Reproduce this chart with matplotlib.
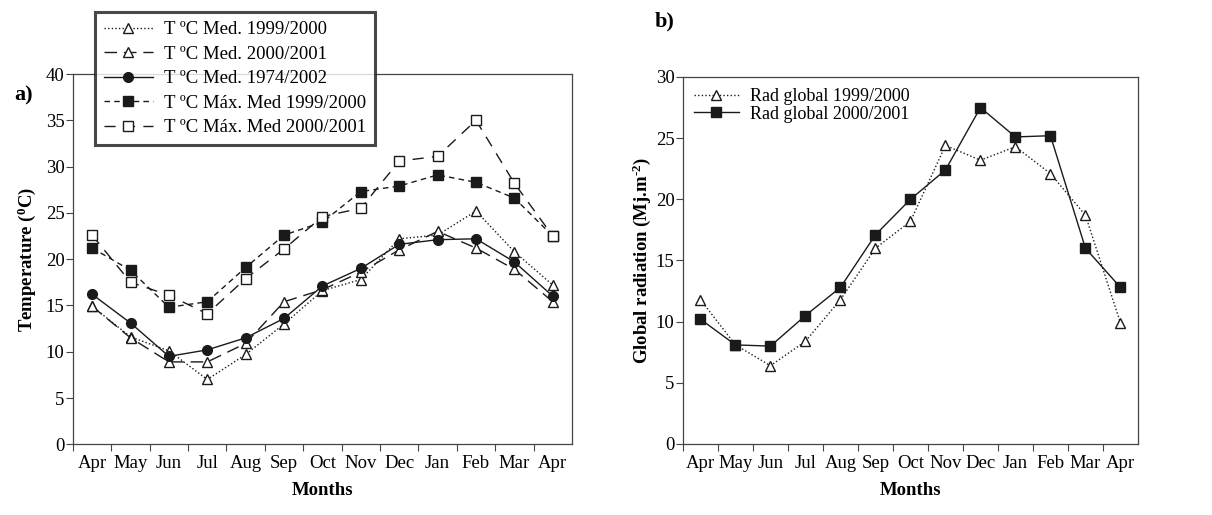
import matplotlib
matplotlib.use("Agg")
import matplotlib.pyplot as plt
import numpy as np

plt.rcParams['font.family'] = ['Liberation Serif', 'DejaVu Serif']
plt.rcParams['mathtext.fontset'] = 'custom'
plt.rcParams['mathtext.rm'] = 'Liberation Serif'
plt.rcParams['mathtext.bf'] = 'Liberation Serif:bold'
plt.rcParams['mathtext.it'] = 'Liberation Serif:italic'

months = ['Apr', 'May', 'Jun', 'Jul', 'Aug', 'Sep', 'Oct', 'Nov', 'Dec', 'Jan', 'Feb', 'Mar', 'Apr']

# mean / max temperature (deg C)
t_med_9900 = [14.9, 11.6, 10.1, 7.0, 9.7, 13.0, 16.6, 17.8, 22.2, 22.6, 25.2, 20.8, 17.2]
t_med_0001 = [14.9, 11.5, 8.9, 8.9, 10.9, 15.4, 16.7, 18.6, 21.0, 23.0, 21.2, 18.9, 15.4]
t_med_7402 = [16.2, 13.1, 9.5, 10.2, 11.5, 13.6, 17.1, 19.0, 21.6, 22.1, 22.2, 19.7, 16.0]
t_max_9900 = [21.2, 18.8, 14.8, 15.4, 19.1, 22.6, 24.0, 27.3, 27.9, 29.1, 28.3, 26.6, 22.5]
t_max_0001 = [22.6, 17.5, 16.1, 14.1, 17.9, 21.1, 24.6, 25.5, 30.6, 31.1, 35.0, 28.2, 22.5]

# global radiation (MJ/m2)
rad_9900 = [11.8, 8.1, 6.4, 8.4, 11.8, 16.0, 18.2, 24.4, 23.2, 24.3, 22.1, 18.7, 9.9]
rad_0001 = [10.2, 8.1, 8.0, 10.5, 12.8, 17.1, 20.0, 22.4, 27.5, 25.1, 25.2, 16.0, 12.8]

ink = '#1a1a1a'
spine_c = '#444444'
fs = 13.5

x = np.arange(len(months))


def style_axes(ax, ymax):
    ax.set_xlim(-0.5, len(months) - 0.5)
    ax.set_ylim(0, ymax)
    ax.set_yticks(np.arange(0, ymax + 1, 5))
    ax.set_xticks(np.arange(-0.5, len(months) - 0.5, 1))
    ax.set_xticklabels([])
    ax.set_xticks(x, minor=True)
    ax.set_xticklabels(months, minor=True, fontsize=fs)
    ax.tick_params(axis='x', which='major', length=5, width=0.8, color=spine_c)
    ax.tick_params(axis='x', which='minor', length=0, pad=8)
    ax.tick_params(axis='y', length=5, width=0.8, color=spine_c, labelsize=fs, pad=1)
    for s in ax.spines.values():
        s.set_color(spine_c)
        s.set_linewidth(0.9)
    ax.set_xlabel('Months', fontsize=fs, fontweight='bold', labelpad=7)


fig = plt.figure(figsize=(12.12, 5.15), dpi=100)

# a) temperature
ax1 = fig.add_axes([0.0602, 0.1373, 0.4117, 0.7190])
mk = dict(color=ink, lw=1.0)
ax1.plot(x, t_med_9900, ls=(0, (1, 1.6)), marker='^', ms=7.5, mfc='white', mec=ink,
         label='T ºC Med. 1999/2000', **mk)
ax1.plot(x, t_med_0001, ls=(0, (9, 5)), marker='^', ms=7.5, mfc='white', mec=ink,
         label='T ºC Med. 2000/2001', **mk)
ax1.plot(x, t_med_7402, ls='-', marker='o', ms=7, mfc=ink, mec=ink,
         label='T ºC Med. 1974/2002', **mk)
ax1.plot(x, t_max_9900, ls=(0, (4, 3)), marker='s', ms=6.5, mfc=ink, mec=ink,
         label='T ºC Máx. Med 1999/2000', **mk)
ax1.plot(x, t_max_0001, ls=(0, (8, 6)), marker='s', ms=6.5, mfc='white', mec=ink,
         label='T ºC Máx. Med 2000/2001', **mk)
style_axes(ax1, 40)
ax1.set_ylabel(r'Temperature ($^{\mathbf{0}}$C)', fontsize=fs, fontweight='bold', labelpad=6)
leg1 = ax1.legend(loc='upper left', bbox_to_anchor=(0.078, 0.977), bbox_transform=fig.transFigure,
                  fontsize=fs, frameon=True, fancybox=False, handlelength=2.6,
                  handletextpad=0.6, labelspacing=0.39, borderpad=0.5, borderaxespad=0)
leg1.get_frame().set_edgecolor(ink)
leg1.get_frame().set_linewidth(2.2)
fig.text(0.012, 0.815, 'a)', fontsize=16, fontweight='bold', va='center')

# b) radiation
ax2 = fig.add_axes([0.5635, 0.1379, 0.3754, 0.7126])
ax2.plot(x, rad_9900, ls=(0, (1, 1.6)), marker='^', ms=7.5, mfc='white', mec=ink,
         label='Rad global 1999/2000', **mk)
ax2.plot(x, rad_0001, ls='-', marker='s', ms=7, mfc=ink, mec=ink,
         label='Rad global 2000/2001', **mk)
style_axes(ax2, 30)
ax2.set_ylabel(r'Global radiation (Mj.m$^{\mathbf{\text{-}2}}$)', fontsize=fs,
               fontweight='bold', labelpad=2)
ax2.legend(loc='upper left', fontsize=fs - 0.5, frameon=False, handlelength=2.5,
           handletextpad=0.6, labelspacing=0.05, borderaxespad=0.2)
fig.text(0.540, 0.958, 'b)', fontsize=16, fontweight='bold', va='center')

fig.savefig('out.png', dpi=100)
